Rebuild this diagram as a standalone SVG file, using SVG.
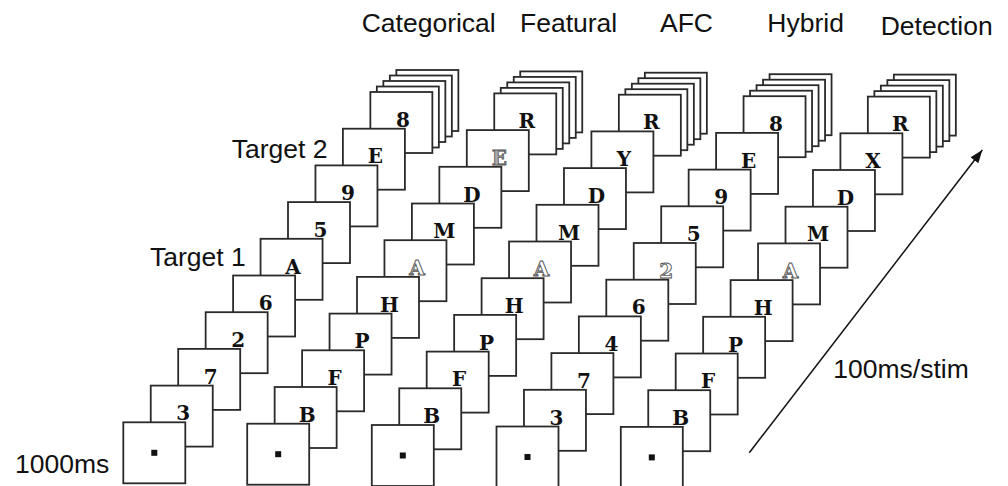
<svg xmlns="http://www.w3.org/2000/svg" xmlns:xlink="http://www.w3.org/1999/xlink" width="1008" height="486" viewBox="0 0 1008 486">
<style>
.fr{fill:#fff;stroke:#2a2a2a;stroke-width:1.8}
.lb{font-family:"DejaVu Serif","Liberation Mono",serif;font-weight:bold;font-size:20px;text-anchor:middle;fill:#111}
.ol{fill:#fff;stroke:#555;stroke-width:0.9}
.og{fill:#aaa;stroke:#555;stroke-width:0.8}
.t{font-family:"Liberation Sans",Arial,Helvetica,sans-serif;font-size:26.5px;fill:#111}
.dot{fill:#111}
.ar{stroke:#111;stroke-width:1.5;fill:none}
</style>
<defs>
<rect id="fr" class="fr" x="0" y="0" width="62" height="61"/>
<g id="stack">
<use xlink:href="#fr" x="273.05" y="-352.3"/>
<use xlink:href="#fr" x="266.55" y="-346.8"/>
<use xlink:href="#fr" x="260.05" y="-341.3"/>
<use xlink:href="#fr" x="253.55" y="-335.8"/>
</g>
<marker id="ah" markerUnits="userSpaceOnUse" markerWidth="14" markerHeight="12" refX="13" refY="5" orient="auto">
<path d="M0,0 L13,5 L0,10 Z" fill="#111"/>
</marker>
</defs>

<g id="headers">
<text class="t" x="361.7" y="31.7">Categorical</text>
<text class="t" x="520" y="31.7">Featural</text>
<text class="t" x="660" y="31.7">AFC</text>
<text class="t" x="767.3" y="31.7">Hybrid</text>
<text class="t" x="880.7" y="35">Detection</text>
<text class="t" x="231.7" y="158.3">Target 2</text>
<text class="t" x="150" y="266">Target 1</text>
<text class="t" x="15" y="473.3">1000ms</text>
<text class="t" x="833.3" y="378.3">100ms/stim</text>
</g>

<!-- Column 1: Categorical -->
<g id="col-categorical" transform="translate(123.3,422.3)">
<g id="c1-stack"><use xlink:href="#stack"/></g>
<g id="c1-f9" transform="translate(247.05,-330.3)"><use xlink:href="#fr"/><text class="lb" x="32.5" y="34.8">8</text></g>
<g id="c1-f8" transform="translate(219.6,-293.6)"><use xlink:href="#fr"/><text class="lb" x="32.5" y="34.8">E</text></g>
<g id="c1-f7" transform="translate(192.15,-256.9)"><use xlink:href="#fr"/><text class="lb" x="32.5" y="34.8">9</text></g>
<g id="c1-f6" transform="translate(164.7,-220.2)"><use xlink:href="#fr"/><text class="lb" x="32.5" y="34.8">5</text></g>
<g id="c1-f5" transform="translate(137.25,-183.5)"><use xlink:href="#fr"/><text class="lb" x="32.5" y="34.8">A</text></g>
<g id="c1-f4" transform="translate(109.8,-146.8)"><use xlink:href="#fr"/><text class="lb" x="32.5" y="34.8">6</text></g>
<g id="c1-f3" transform="translate(82.35,-110.1)"><use xlink:href="#fr"/><text class="lb" x="32.5" y="34.8">2</text></g>
<g id="c1-f2" transform="translate(54.9,-73.4)"><use xlink:href="#fr"/><text class="lb" x="32.5" y="34.8">7</text></g>
<g id="c1-f1" transform="translate(27.45,-36.7)"><use xlink:href="#fr"/><text class="lb" x="32.5" y="34.8">3</text></g>
<g id="c1-f0"><use xlink:href="#fr"/><rect class="dot" x="28" y="27.5" width="6" height="6"/></g>
</g>

<!-- Column 2: Featural -->
<g id="col-featural" transform="translate(247.2,423.7)">
<g id="c2-stack"><use xlink:href="#stack"/></g>
<g id="c2-f9" transform="translate(247.05,-330.3)"><use xlink:href="#fr"/><text class="lb" x="32.5" y="34.8">R</text></g>
<g id="c2-f8" transform="translate(219.6,-293.6)"><use xlink:href="#fr"/><text class="lb og" x="32.5" y="34.8">E</text></g>
<g id="c2-f7" transform="translate(192.15,-256.9)"><use xlink:href="#fr"/><text class="lb" x="32.5" y="34.8">D</text></g>
<g id="c2-f6" transform="translate(164.7,-220.2)"><use xlink:href="#fr"/><text class="lb" x="32.5" y="34.8">M</text></g>
<g id="c2-f5" transform="translate(137.25,-183.5)"><use xlink:href="#fr"/><text class="lb ol" x="32.5" y="34.8">A</text></g>
<g id="c2-f4" transform="translate(109.8,-146.8)"><use xlink:href="#fr"/><text class="lb" x="32.5" y="34.8">H</text></g>
<g id="c2-f3" transform="translate(82.35,-110.1)"><use xlink:href="#fr"/><text class="lb" x="32.5" y="34.8">P</text></g>
<g id="c2-f2" transform="translate(54.9,-73.4)"><use xlink:href="#fr"/><text class="lb" x="32.5" y="34.8">F</text></g>
<g id="c2-f1" transform="translate(27.45,-36.7)"><use xlink:href="#fr"/><text class="lb" x="32.5" y="34.8">B</text></g>
<g id="c2-f0"><use xlink:href="#fr"/><rect class="dot" x="28" y="27.5" width="6" height="6"/></g>
</g>

<!-- Column 3: AFC -->
<g id="col-afc" transform="translate(371.8,425)">
<g id="c3-stack"><use xlink:href="#stack"/></g>
<g id="c3-f9" transform="translate(247.05,-330.3)"><use xlink:href="#fr"/><text class="lb" x="32.5" y="34.8">R</text></g>
<g id="c3-f8" transform="translate(219.6,-293.6)"><use xlink:href="#fr"/><text class="lb" x="32.5" y="34.8">Y</text></g>
<g id="c3-f7" transform="translate(192.15,-256.9)"><use xlink:href="#fr"/><text class="lb" x="32.5" y="34.8">D</text></g>
<g id="c3-f6" transform="translate(164.7,-220.2)"><use xlink:href="#fr"/><text class="lb" x="32.5" y="34.8">M</text></g>
<g id="c3-f5" transform="translate(137.25,-183.5)"><use xlink:href="#fr"/><text class="lb ol" x="32.5" y="34.8">A</text></g>
<g id="c3-f4" transform="translate(109.8,-146.8)"><use xlink:href="#fr"/><text class="lb" x="32.5" y="34.8">H</text></g>
<g id="c3-f3" transform="translate(82.35,-110.1)"><use xlink:href="#fr"/><text class="lb" x="32.5" y="34.8">P</text></g>
<g id="c3-f2" transform="translate(54.9,-73.4)"><use xlink:href="#fr"/><text class="lb" x="32.5" y="34.8">F</text></g>
<g id="c3-f1" transform="translate(27.45,-36.7)"><use xlink:href="#fr"/><text class="lb" x="32.5" y="34.8">B</text></g>
<g id="c3-f0"><use xlink:href="#fr"/><rect class="dot" x="28" y="27.5" width="6" height="6"/></g>
</g>

<!-- Column 4: Hybrid -->
<g id="col-hybrid" transform="translate(496.5,426.5)">
<g id="c4-stack"><use xlink:href="#stack"/></g>
<g id="c4-f9" transform="translate(247.05,-330.3)"><use xlink:href="#fr"/><text class="lb" x="32.5" y="34.8">8</text></g>
<g id="c4-f8" transform="translate(219.6,-293.6)"><use xlink:href="#fr"/><text class="lb" x="32.5" y="34.8">E</text></g>
<g id="c4-f7" transform="translate(192.15,-256.9)"><use xlink:href="#fr"/><text class="lb" x="32.5" y="34.8">9</text></g>
<g id="c4-f6" transform="translate(164.7,-220.2)"><use xlink:href="#fr"/><text class="lb" x="32.5" y="34.8">5</text></g>
<g id="c4-f5" transform="translate(137.25,-183.5)"><use xlink:href="#fr"/><text class="lb ol" x="32.5" y="34.8">2</text></g>
<g id="c4-f4" transform="translate(109.8,-146.8)"><use xlink:href="#fr"/><text class="lb" x="32.5" y="34.8">6</text></g>
<g id="c4-f3" transform="translate(82.35,-110.1)"><use xlink:href="#fr"/><text class="lb" x="32.5" y="34.8">4</text></g>
<g id="c4-f2" transform="translate(54.9,-73.4)"><use xlink:href="#fr"/><text class="lb" x="32.5" y="34.8">7</text></g>
<g id="c4-f1" transform="translate(27.45,-36.7)"><use xlink:href="#fr"/><text class="lb" x="32.5" y="34.8">3</text></g>
<g id="c4-f0"><use xlink:href="#fr"/><rect class="dot" x="28" y="27.5" width="6" height="6"/></g>
</g>

<!-- Column 5: Detection -->
<g id="col-detection" transform="translate(620.8,426.9)">
<g id="c5-stack"><use xlink:href="#stack"/></g>
<g id="c5-f9" transform="translate(247.05,-330.3)"><use xlink:href="#fr"/><text class="lb" x="32.5" y="34.8">R</text></g>
<g id="c5-f8" transform="translate(219.6,-293.6)"><use xlink:href="#fr"/><text class="lb" x="32.5" y="34.8">X</text></g>
<g id="c5-f7" transform="translate(192.15,-256.9)"><use xlink:href="#fr"/><text class="lb" x="32.5" y="34.8">D</text></g>
<g id="c5-f6" transform="translate(164.7,-220.2)"><use xlink:href="#fr"/><text class="lb" x="32.5" y="34.8">M</text></g>
<g id="c5-f5" transform="translate(137.25,-183.5)"><use xlink:href="#fr"/><text class="lb ol" x="32.5" y="34.8">A</text></g>
<g id="c5-f4" transform="translate(109.8,-146.8)"><use xlink:href="#fr"/><text class="lb" x="32.5" y="34.8">H</text></g>
<g id="c5-f3" transform="translate(82.35,-110.1)"><use xlink:href="#fr"/><text class="lb" x="32.5" y="34.8">P</text></g>
<g id="c5-f2" transform="translate(54.9,-73.4)"><use xlink:href="#fr"/><text class="lb" x="32.5" y="34.8">F</text></g>
<g id="c5-f1" transform="translate(27.45,-36.7)"><use xlink:href="#fr"/><text class="lb" x="32.5" y="34.8">B</text></g>
<g id="c5-f0"><use xlink:href="#fr"/><rect class="dot" x="28" y="27.5" width="6" height="6"/></g>
</g>

<g id="connectors">
<line class="ar" x1="749.3" y1="452.7" x2="982.3" y2="150" marker-end="url(#ah)"/>
</g>
</svg>
